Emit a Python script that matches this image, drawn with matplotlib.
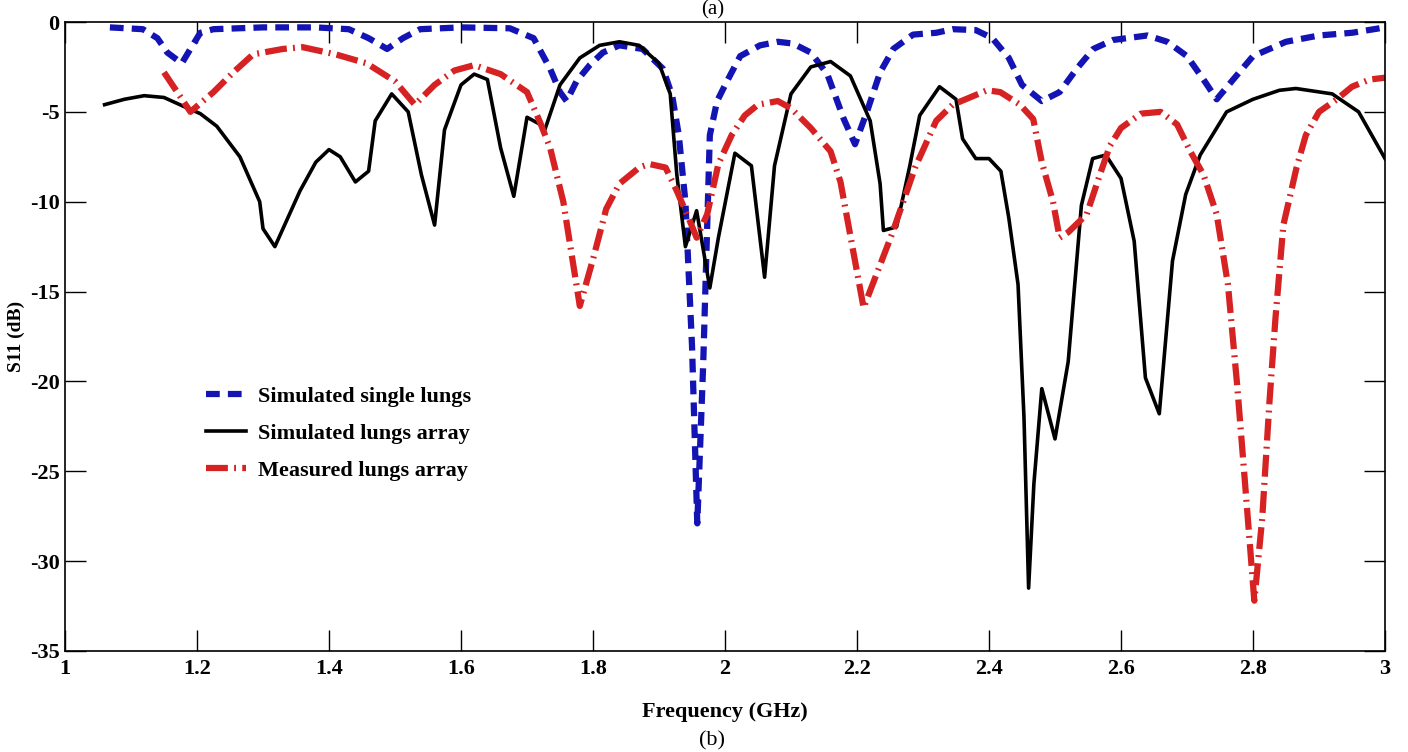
import matplotlib
matplotlib.use("Agg")
import matplotlib.pyplot as plt

# simulated single lungs (blue dashed)
f_single = [1.068, 1.118, 1.14, 1.155, 1.177, 1.19, 1.205, 1.225, 1.30, 1.38, 1.43, 1.46, 1.488,
            1.512, 1.538, 1.60, 1.674, 1.71, 1.735, 1.75, 1.76, 1.775, 1.795, 1.815, 1.84, 1.875,
            1.906, 1.92, 1.93, 1.94, 1.95, 1.958, 1.967, 1.977, 1.988, 2.003, 2.023, 2.053, 2.08,
            2.103, 2.13, 2.155, 2.18, 2.197, 2.215, 2.235, 2.255, 2.285, 2.32, 2.345, 2.38, 2.405,
            2.43, 2.45, 2.48, 2.507, 2.533, 2.558, 2.588, 2.64, 2.67, 2.70, 2.725, 2.745, 2.77,
            2.80, 2.85, 2.90, 2.95, 3.0]
s_single = [-0.3, -0.4, -0.9, -1.7, -2.3, -1.5, -0.6, -0.4, -0.3, -0.3, -0.4, -0.9, -1.5,
            -0.9, -0.4, -0.3, -0.35, -0.9, -2.6, -3.9, -4.4, -3.3, -2.4, -1.7, -1.3, -1.5,
            -2.6, -4.1, -6.3, -10.0, -18.0, -27.9, -19.0, -6.3, -4.4, -3.3, -1.9, -1.3, -1.1,
            -1.2, -1.7, -2.9, -5.4, -6.8, -5.0, -2.8, -1.5, -0.7, -0.6, -0.4, -0.45, -0.9,
            -2.0, -3.5, -4.4, -3.9, -2.6, -1.5, -1.0, -0.75, -1.1, -1.9, -3.2, -4.3, -3.2,
            -1.9, -1.1, -0.75, -0.6, -0.3]

# simulated lungs array (black solid)
f_array = [1.06, 1.09, 1.12, 1.15, 1.18, 1.205, 1.23, 1.265, 1.295, 1.30, 1.318, 1.356, 1.38,
           1.40, 1.417, 1.44, 1.46, 1.47, 1.495, 1.52, 1.54, 1.56, 1.575, 1.60, 1.62, 1.64,
           1.66, 1.68, 1.70, 1.72, 1.727, 1.75, 1.78, 1.81, 1.84, 1.87, 1.90, 1.917, 1.927,
           1.94, 1.957, 1.977, 1.99, 2.015, 2.04, 2.06, 2.075, 2.10, 2.13, 2.16, 2.19, 2.22,
           2.235, 2.24, 2.26, 2.28, 2.295, 2.325, 2.35, 2.36, 2.38, 2.40, 2.418, 2.43, 2.444,
           2.453, 2.46, 2.468, 2.48, 2.50, 2.52, 2.54, 2.557, 2.577, 2.60, 2.62, 2.637, 2.658,
           2.678, 2.698, 2.72, 2.76, 2.80, 2.84, 2.865, 2.92, 2.96, 3.0]
s_array = [-4.6, -4.3, -4.1, -4.2, -4.7, -5.1, -5.8, -7.5, -10.0, -11.5, -12.5, -9.4, -7.8,
           -7.1, -7.5, -8.9, -8.3, -5.5, -4.0, -5.0, -8.5, -11.3, -6.0, -3.5, -2.9, -3.2,
           -7.0, -9.7, -5.3, -5.7, -6.0, -3.5, -2.0, -1.3, -1.1, -1.3, -2.3, -4.0, -8.5,
           -12.5, -10.5, -14.8, -12.0, -7.3, -8.0, -14.2, -8.0, -4.0, -2.5, -2.2, -3.0, -5.5,
           -9.0, -11.6, -11.4, -8.0, -5.2, -3.6, -4.3, -6.5, -7.6, -7.6, -8.3, -10.9, -14.6,
           -22.0, -31.5, -25.7, -20.4, -23.2, -18.9, -10.2, -7.6, -7.4, -8.7, -12.2, -19.8, -21.8,
           -13.3, -9.6, -7.4, -5.0, -4.3, -3.8, -3.7, -4.0, -5.0, -7.6]

# measured lungs array (red dash-dot)
f_meas = [1.15, 1.19, 1.225, 1.255, 1.285, 1.33, 1.36, 1.41, 1.457, 1.50, 1.53, 1.56, 1.59,
          1.62, 1.66, 1.70, 1.72, 1.735, 1.755, 1.78, 1.80, 1.82, 1.84, 1.87, 1.885, 1.91,
          1.927, 1.947, 1.957, 1.973, 1.99, 2.01, 2.03, 2.05, 2.08, 2.10, 2.13, 2.16, 2.175,
          2.21, 2.253, 2.288, 2.32, 2.345, 2.397, 2.417, 2.447, 2.467, 2.48, 2.497, 2.507,
          2.52, 2.548, 2.568, 2.583, 2.60, 2.63, 2.66, 2.685, 2.705, 2.725, 2.745, 2.762,
          2.776, 2.788, 2.802, 2.814, 2.825, 2.834, 2.846, 2.866, 2.88, 2.90, 2.927, 2.95,
          2.977, 3.0]
s_meas = [-2.8, -5.0, -3.9, -2.8, -1.8, -1.5, -1.4, -1.8, -2.3, -3.3, -4.6, -3.5, -2.7,
          -2.4, -2.9, -3.9, -5.6, -7.0, -10.0, -15.8, -13.2, -10.4, -9.0, -8.1, -7.9, -8.1,
          -9.4, -11.1, -12.0, -10.7, -7.9, -6.3, -5.2, -4.6, -4.4, -4.8, -5.9, -7.2, -8.9,
          -15.9, -11.8, -8.1, -5.5, -4.6, -3.8, -3.9, -4.6, -5.4, -7.8, -10.0, -12.0,
          -11.7, -10.7, -8.5, -6.9, -5.9, -5.1, -5.0, -5.7, -7.2, -8.5, -10.7, -14.6,
          -20.2, -25.7, -32.2, -27.6, -21.1, -16.5, -11.3, -8.1, -6.3, -5.0, -4.3, -3.6,
          -3.2, -3.1]

x_ticks = [1, 1.2, 1.4, 1.6, 1.8, 2, 2.2, 2.4, 2.6, 2.8, 3]
x_labels = ["1", "1.2", "1.4", "1.6", "1.8", "2", "2.2", "2.4", "2.6", "2.8", "3"]
y_ticks = [-35, -30, -25, -20, -15, -10, -5, 0]

plt.rcParams['font.family'] = ['Liberation Serif', 'DejaVu Serif']
plt.rcParams['font.weight'] = 'bold'
plt.rcParams['axes.unicode_minus'] = False

fig = plt.figure(figsize=(14.08, 7.52), dpi=100)
ax = fig.add_axes([65 / 1408, 101 / 752, 1320 / 1408, 629 / 752])

ax.plot(f_single, s_single, color='#1414b4', lw=4.5, ls=(0, (2.2, 1.3)),
        label='Simulated single lungs')
ax.plot(f_array, s_array, color='black', lw=2.6, label='Simulated lungs array')
ax.plot(f_meas, s_meas, color='#d62222', lw=4.5, ls=(0, (3.5, 1.0, 0.3, 1.0)),
        label='Measured lungs array')

ax.set_xlim(1, 3)
ax.set_ylim(-35, 0)
ax.set_xticks(x_ticks)
ax.set_xticklabels(x_labels)
ax.set_yticks(y_ticks)
ax.tick_params(direction='in', length=15, width=1, top=True, right=True,
               labelsize=16, pad=6)
ax.tick_params(axis='y', pad=4)
for sp in ax.spines.values():
    sp.set_linewidth(1.2)

ax.set_xlabel('Frequency (GHz)', fontsize=16, fontweight='bold', labelpad=16)
ax.set_ylabel('S11 (dB)', fontsize=14, fontweight='bold')
ax.yaxis.set_label_coords(-0.030, 0.5)

leg = ax.legend(loc='upper left', bbox_to_anchor=(0.092, 0.453), frameon=False,
                fontsize=16, handlelength=1.8, handletextpad=0.5, labelspacing=0.75)

fig.text(0.506, 1.0, '(a)', ha='center', va='top', fontsize=15, fontweight='normal')
fig.text(0.506, 0.002, '(b)', ha='center', va='bottom', fontsize=16, fontweight='normal')

fig.savefig('out.png', dpi=100)
